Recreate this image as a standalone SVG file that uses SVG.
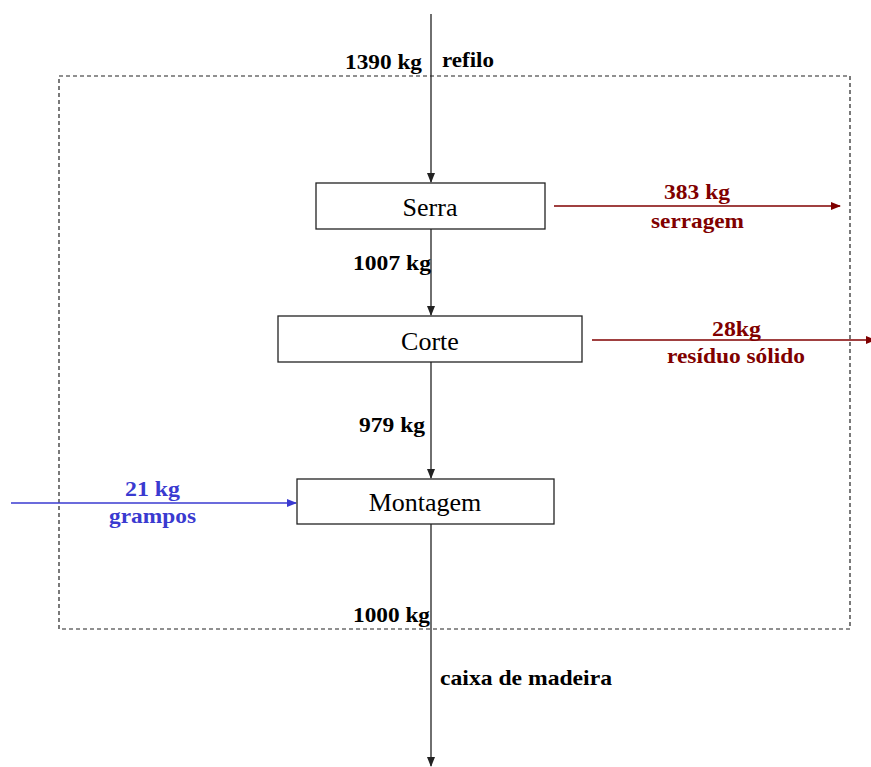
<svg xmlns="http://www.w3.org/2000/svg" width="871" height="767" viewBox="0 0 871 767">
<style>
.box{fill:#fff;stroke:#222;stroke-width:1.3}
.bt{font-family:"Liberation Serif","Times New Roman",serif;font-size:26px;fill:#000;text-anchor:middle}
.lb{font-family:"Liberation Serif","Times New Roman",serif;font-size:21.5px;font-weight:bold}
.k{fill:#000}
.r{fill:#800000}
.b{fill:#3a3ad0}
.ln{stroke:#222;stroke-width:1.3;fill:none}
.lr{stroke:#800000;stroke-width:1.3;fill:none}
.lbl{stroke:#3a3ad0;stroke-width:1.3;fill:none}
</style>
<defs>
<marker id="ak" markerWidth="10" markerHeight="8" refX="9" refY="4" orient="auto" markerUnits="userSpaceOnUse"><path d="M0,0 L10,4 L0,8 Z" fill="#222"/></marker>
<marker id="ar" markerWidth="10" markerHeight="8" refX="9" refY="4" orient="auto" markerUnits="userSpaceOnUse"><path d="M0,0 L10,4 L0,8 Z" fill="#800000"/></marker>
<marker id="ab" markerWidth="10" markerHeight="8" refX="9" refY="4" orient="auto" markerUnits="userSpaceOnUse"><path d="M0,0 L10,4 L0,8 Z" fill="#3a3ad0"/></marker>
</defs>
<rect id="boundary" x="59" y="76" width="791" height="553" fill="none" stroke="#222" stroke-width="1.2" stroke-dasharray="4,3"/>
<g id="connectors">
<line class="ln" x1="431" y1="14" x2="431" y2="182" marker-end="url(#ak)"/>
<line class="ln" x1="431" y1="229" x2="431" y2="315" marker-end="url(#ak)"/>
<line class="ln" x1="431" y1="362" x2="431" y2="478" marker-end="url(#ak)"/>
<line class="ln" x1="431" y1="524" x2="431" y2="766" marker-end="url(#ak)"/>
<line class="lr" x1="554" y1="206" x2="840" y2="206" marker-end="url(#ar)"/>
<line class="lr" x1="592" y1="340" x2="875" y2="340" marker-end="url(#ar)"/>
<line class="lbl" x1="11" y1="503" x2="296" y2="503" marker-end="url(#ab)"/>
</g>
<g id="serra"><rect class="box" x="316" y="183" width="229" height="46"/><text class="bt" x="430" y="216">Serra</text></g>
<g id="corte"><rect class="box" x="278" y="316" width="304" height="46"/><text class="bt" x="430" y="350">Corte</text></g>
<g id="montagem"><rect class="box" x="297" y="479" width="257" height="45"/><text class="bt" x="425" y="511">Montagem</text></g>
<g id="labels">
<text class="lb k" x="345" y="69" textLength="77" lengthAdjust="spacingAndGlyphs">1390 kg</text>
<text class="lb k" x="442" y="67" textLength="52" lengthAdjust="spacingAndGlyphs">refilo</text>
<text class="lb k" x="353" y="270" textLength="78" lengthAdjust="spacingAndGlyphs">1007 kg</text>
<text class="lb k" x="359" y="432" textLength="66" lengthAdjust="spacingAndGlyphs">979 kg</text>
<text class="lb k" x="353" y="622" textLength="77" lengthAdjust="spacingAndGlyphs">1000 kg</text>
<text class="lb k" x="440" y="685" textLength="172" lengthAdjust="spacingAndGlyphs">caixa de madeira</text>
<text class="lb r" x="664" y="199" textLength="66" lengthAdjust="spacingAndGlyphs">383 kg</text>
<text class="lb r" x="651" y="228" textLength="93" lengthAdjust="spacingAndGlyphs">serragem</text>
<text class="lb r" x="712" y="336" textLength="49" lengthAdjust="spacingAndGlyphs">28kg</text>
<text class="lb r" x="667" y="363" textLength="138" lengthAdjust="spacingAndGlyphs">resíduo sólido</text>
<text class="lb b" x="125" y="496" textLength="55" lengthAdjust="spacingAndGlyphs">21 kg</text>
<text class="lb b" x="109" y="523" textLength="87" lengthAdjust="spacingAndGlyphs">grampos</text>
</g>
</svg>
